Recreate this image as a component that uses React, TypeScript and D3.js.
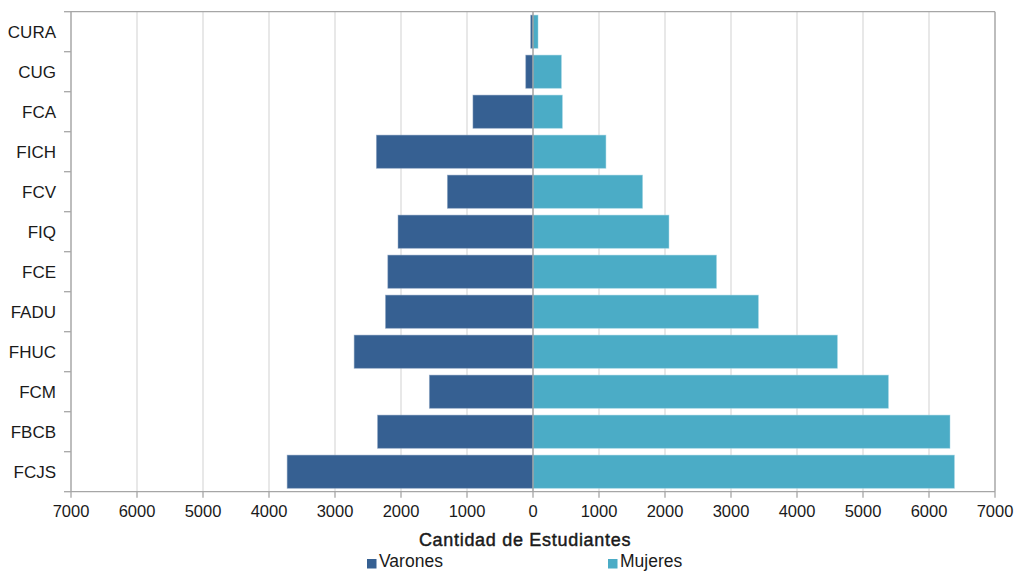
import React from "react";
import * as d3 from "d3";

const categories = ["CURA", "CUG", "FCA", "FICH", "FCV", "FIQ", "FCE", "FADU", "FHUC", "FCM", "FBCB", "FCJS"];
const varones = [35, 110, 910, 2373, 1297, 2045, 2200, 2235, 2710, 1570, 2355, 3725];
const mujeres = [76, 430, 445, 1105, 1660, 2060, 2780, 3415, 4612, 5385, 6318, 6385];
const tickValues = [-7000, -6000, -5000, -4000, -3000, -2000, -1000, 0, 1000, 2000, 3000, 4000, 5000, 6000, 7000];
const seriesNames = ["Varones", "Mujeres"];
const colors = ["#366092", "#4BACC6"];

const W = 1019;
const H = 571;
const left = 71;
const right = 995;
const top = 11.7;
const bottom = 491.7;

export default function App() {
  const x = d3.scaleLinear().domain([-7000, 7000]).range([left, right]);
  const y = d3.scaleBand<string>().domain(categories).range([top, bottom]).paddingInner(0.17).paddingOuter(0.085);
  const bandStep = (bottom - top) / categories.length;
  const font = "'Liberation Sans', Arial, sans-serif";

  return (
    <div style={{ position: "absolute", left: 0, top: 0 }}>
      <svg width={W} height={H} style={{ display: "block", background: "#fff" }}>
        {/* gridlines */}
        {tickValues.map((t) => (
          <line key={"g" + t} x1={x(t)} x2={x(t)} y1={top} y2={bottom} stroke="#d9d9d9" strokeWidth={1.2} />
        ))}
        {/* bars */}
        {categories.map((c, i) => (
          <g key={c}>
            <rect
              x={x(-varones[i])}
              y={y(c)}
              width={x(0) - x(-varones[i])}
              height={y.bandwidth()}
              fill={colors[0]}
              stroke="#8aa3c2"
              strokeOpacity={0.6}
              strokeWidth={0.8}
            />
            <rect
              x={x(0)}
              y={y(c)}
              width={x(mujeres[i]) - x(0)}
              height={y.bandwidth()}
              fill={colors[1]}
              stroke="#9fd3e2"
              strokeOpacity={0.6}
              strokeWidth={0.8}
            />
          </g>
        ))}
        {/* zero line */}
        <line x1={x(0)} x2={x(0)} y1={top} y2={bottom} stroke="#a0a0a0" strokeWidth={1.3} />
        {/* border top/right */}
        <line x1={left} x2={right} y1={top} y2={top} stroke="#a6a6a6" strokeWidth={1.3} />
        <line x1={right} x2={right} y1={top} y2={bottom} stroke="#a6a6a6" strokeWidth={1.3} />
        {/* left axis */}
        <line x1={left} x2={left} y1={top} y2={bottom} stroke="#a6a6a6" strokeWidth={1.3} />
        {d3.range(categories.length + 1).map((k) => (
          <line key={"yt" + k} x1={left - 7} x2={left} y1={top + k * bandStep} y2={top + k * bandStep} stroke="#a6a6a6" strokeWidth={1.3} />
        ))}
        {categories.map((c) => (
          <text
            key={"yl" + c}
            x={56}
            y={(y(c) as number) + y.bandwidth() / 2}
            dy="0.36em"
            textAnchor="end"
            fontFamily={font}
            fontSize={17}
            fill="#1a1a1a"
          >
            {c}
          </text>
        ))}
        {/* bottom axis */}
        <line x1={left} x2={right} y1={bottom} y2={bottom} stroke="#a6a6a6" strokeWidth={1.3} />
        {tickValues.map((t) => (
          <g key={"xt" + t}>
            <line x1={x(t)} x2={x(t)} y1={bottom} y2={bottom + 6} stroke="#a6a6a6" strokeWidth={1.3} />
            <text x={x(t)} y={517} textAnchor="middle" fontFamily={font} fontSize={16.5} fill="#1a1a1a">
              {Math.abs(t)}
            </text>
          </g>
        ))}
        {/* axis title */}
        <text
          x={525}
          y={546}
          textAnchor="middle"
          fontFamily={font}
          fontSize={18}
          letterSpacing={0.7}
          stroke="#1a1a1a"
          strokeWidth={0.45}
          fill="#1a1a1a"
        >
          Cantidad de Estudiantes
        </text>
        {/* legend */}
        <rect x={367} y={559} width={9.5} height={9.5} fill={colors[0]} />
        <text x={379} y={567} fontFamily={font} fontSize={17.5} fill="#1a1a1a">
          {seriesNames[0]}
        </text>
        <rect x={608} y={559} width={9.5} height={9.5} fill={colors[1]} />
        <text x={620} y={567} fontFamily={font} fontSize={17.5} fill="#1a1a1a">
          {seriesNames[1]}
        </text>
      </svg>
    </div>
  );
}
